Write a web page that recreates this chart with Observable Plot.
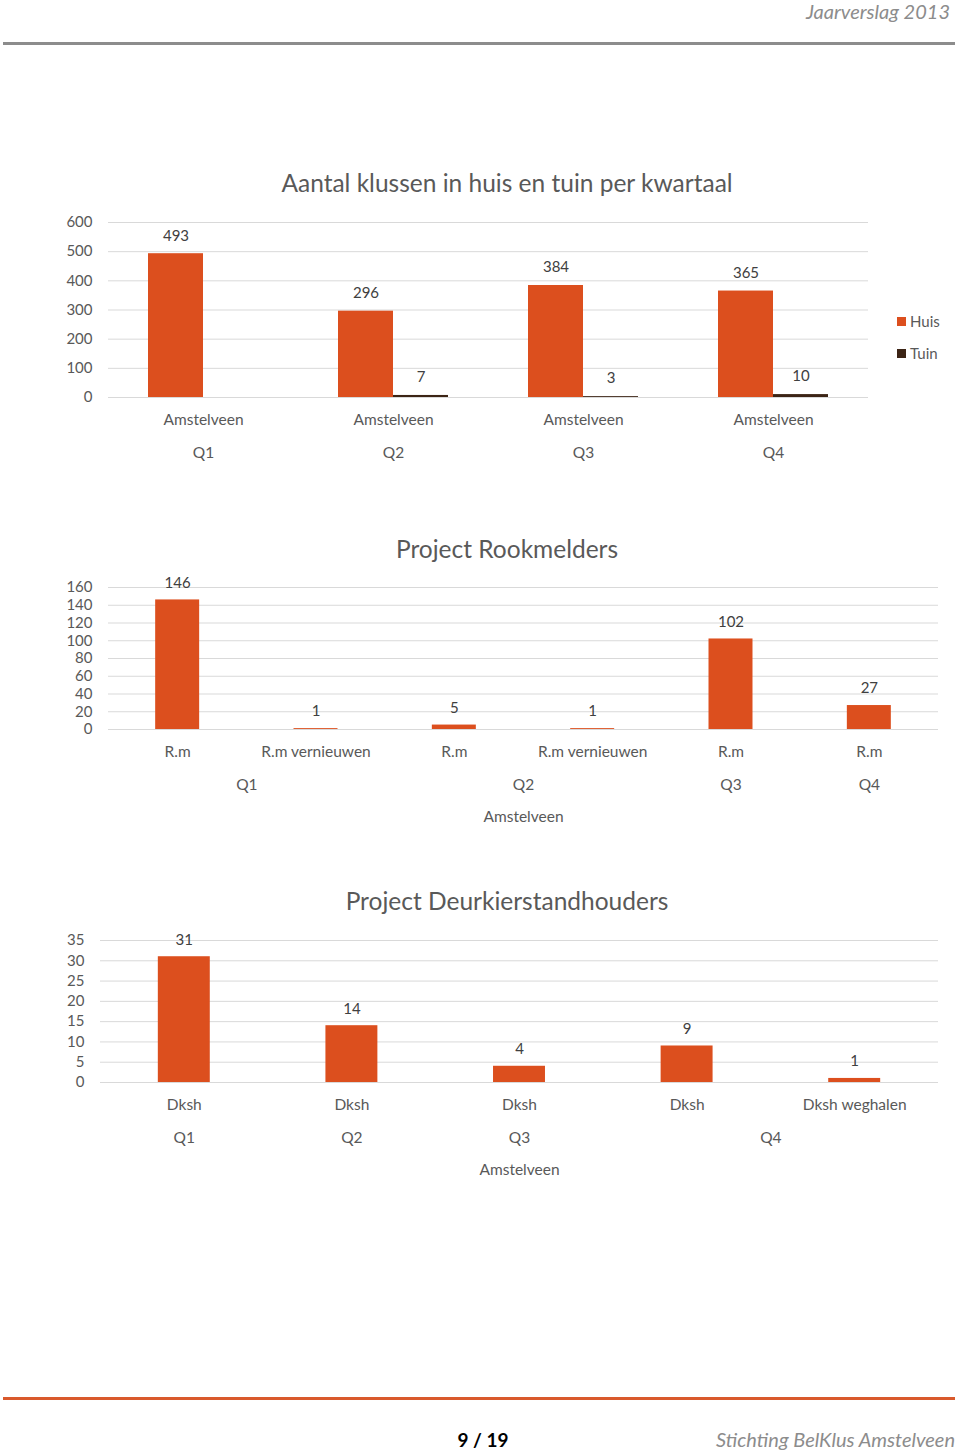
<!DOCTYPE html>
<html><head><meta charset="utf-8">
<script src="https://cdn.jsdelivr.net/npm/d3@7"></script>
<script src="https://cdn.jsdelivr.net/npm/@observablehq/plot@0.6"></script>
<style>
body{margin:0;background:#fff;font-family:Lato,"Open Sans",sans-serif;}
#page{position:relative;width:960px;height:1453px;overflow:hidden;background:#fff;}
.abs{position:absolute;}
.title{position:absolute;left:207px;width:600px;text-align:center;font-size:24.5px;color:#595959;line-height:28px;}
.legend{position:absolute;left:897px;font-size:15px;color:#595959;}
.legend div{height:32px;display:flex;align-items:center;}
.legend span.sw{display:inline-block;width:9px;height:9px;margin-right:4px;}
</style></head>
<body>
<div id="page">
  <div class="abs" style="right:10px;top:-1px;font-size:20px;font-style:italic;color:#8c8c8c;">Jaarverslag 2013</div>
  <div class="abs" style="left:3px;top:42px;width:952px;height:3px;background:#8c8c8c;"></div>

  <div class="title" style="top:169px;">Aantal klussen in huis en tuin per kwartaal</div>
  <div id="c1" class="abs" style="left:0;top:200px;"></div>
  <div id="leg" class="legend" style="top:305px;"></div>

  <div class="title" style="top:535px;">Project Rookmelders</div>
  <div id="c2" class="abs" style="left:0;top:560px;"></div>

  <div class="title" style="top:887px;">Project Deurkierstandhouders</div>
  <div id="c3" class="abs" style="left:0;top:920px;"></div>

  <div class="abs" style="left:3px;top:1397px;width:952px;height:3px;background:#D9592C;"></div>
  <div class="abs" style="left:433px;width:100px;text-align:center;top:1428px;font-size:19px;font-weight:bold;color:#000;">9 / 19</div>
  <div class="abs" style="right:5px;top:1427px;font-size:20px;font-style:italic;color:#8c8c8c;">Stichting BelKlus Amstelveen</div>
</div>
<script>
// ---------- data ----------
const region = "Amstelveen";
const quarters = ["Q1", "Q2", "Q3", "Q4"];
const series = ["Huis", "Tuin"];
const huisValues = [493, 296, 384, 365];
const tuinValues = [null, 7, 3, 10];
const seriesColors = ["#DC4F1E", "#3C2415"];
const ticks1 = [0, 100, 200, 300, 400, 500, 600];

const rookCategories = ["R.m", "R.m vernieuwen", "R.m", "R.m vernieuwen", "R.m", "R.m"];
const rookQuarters = ["Q1", "Q1", "Q2", "Q2", "Q3", "Q4"];
const rookValues = [146, 1, 5, 1, 102, 27];
const ticks2 = [0, 20, 40, 60, 80, 100, 120, 140, 160];

const dkshCategories = ["Dksh", "Dksh", "Dksh", "Dksh", "Dksh weghalen"];
const dkshQuarters = ["Q1", "Q2", "Q3", "Q4", "Q4"];
const dkshValues = [31, 14, 4, 9, 1];
const ticks3 = [0, 5, 10, 15, 20, 25, 30, 35];

const textColor = "#595959";
const valueColor = "#404040";
const gridColor = "#d9d9d9";
const fontFamily = 'Lato, "Open Sans", sans-serif';

// ---------- legend ----------
const leg = document.getElementById("leg");
series.forEach((s, i) => {
  const row = document.createElement("div");
  row.innerHTML = `<span class="sw" style="background:${seriesColors[i]}"></span>${s}`;
  leg.appendChild(row);
});

// ---------- chart 1 ----------
const data1 = quarters.flatMap((q, i) => [
  {q, s: "Huis", v: huisValues[i]},
  {q, s: "Tuin", v: tuinValues[i]}
]).filter(d => d.v != null);

const c1 = Plot.plot({
  width: 960, height: 270,
  marginTop: 22, marginBottom: 73, marginLeft: 108, marginRight: 92,
  style: {fontFamily, fontSize: "15.5px", color: textColor, background: "transparent", overflow: "visible"},
  fx: {domain: quarters, padding: 0, label: null, axis: null},
  x: {domain: series, paddingInner: 0, paddingOuter: 0.727, axis: null},
  y: {domain: [0, 600], axis: null},
  color: {domain: series, range: seriesColors},
  marks: [
    Plot.gridY(ticks1, {stroke: gridColor, strokeOpacity: 1, strokeWidth: 1}),
    Plot.axisY(ticks1, {tickSize: 0, tickPadding: 16, label: null, fill: textColor, fontSize: 15}),
    Plot.barY(data1, {fx: "q", x: "s", y: "v", fill: "s"}),
    Plot.text(data1, {fx: "q", x: "s", y: "v", text: d => String(d.v), dy: -18, fill: valueColor, fontSize: 15}),
    Plot.text(quarters, {fx: d => d, text: () => region, frameAnchor: "bottom", dy: 27, fill: textColor, fontSize: 15.5}),
    Plot.text(quarters, {fx: d => d, text: d => d, frameAnchor: "bottom", dy: 60, fill: textColor, fontSize: 15.5})
  ]
});
document.getElementById("c1").appendChild(c1);

// ---------- helper for hierarchical bar charts ----------
function hierChart({cats, qs, vals, ticks, yMax, height, marginTop, marginBottom, marginLeft, barFrac}) {
  const data = cats.map((c, i) => ({i, c, q: qs[i], v: vals[i]}));
  const groups = d3.groups(data, d => d.q).map(([q, arr]) => ({q, x: d3.mean(arr, d => d.i)}));
  const top = [{label: region, x: d3.mean(data, d => d.i)}];
  const half = barFrac / 2;
  return Plot.plot({
    width: 960, height,
    marginTop, marginBottom, marginLeft, marginRight: 22,
    style: {fontFamily, fontSize: "15.5px", color: textColor, background: "transparent", overflow: "visible"},
    x: {domain: [-0.5, cats.length - 0.5], axis: null},
    y: {domain: [0, yMax], axis: null},
    marks: [
      Plot.gridY(ticks, {stroke: gridColor, strokeOpacity: 1, strokeWidth: 1}),
      Plot.axisY(ticks, {tickSize: 0, tickPadding: 16, label: null, fill: textColor, fontSize: 15}),
      Plot.rectY(data, {x1: d => d.i - half, x2: d => d.i + half, y1: 0, y2: "v", fill: seriesColors[0]}),
      Plot.text(data, {x: "i", y: "v", text: d => String(d.v), dy: -17, fill: valueColor, fontSize: 15}),
      Plot.text(data, {x: "i", text: "c", frameAnchor: "bottom", dy: 27, fill: textColor, fontSize: 15.5}),
      Plot.text(groups, {x: "x", text: "q", frameAnchor: "bottom", dy: 60, fill: textColor, fontSize: 15.5}),
      Plot.text(top, {x: "x", text: "label", frameAnchor: "bottom", dy: 92, fill: textColor, fontSize: 15.5})
    ]
  });
}

// ---------- chart 2 ----------
document.getElementById("c2").appendChild(hierChart({
  cats: rookCategories, qs: rookQuarters, vals: rookValues, ticks: ticks2, yMax: 160,
  height: 290, marginTop: 27, marginBottom: 121, marginLeft: 108, barFrac: 0.318
}));

// ---------- chart 3 ----------
document.getElementById("c3").appendChild(hierChart({
  cats: dkshCategories, qs: dkshQuarters, vals: dkshValues, ticks: ticks3, yMax: 35,
  height: 280, marginTop: 20, marginBottom: 118, marginLeft: 100, barFrac: 0.31
}));
</script>
</body></html>
